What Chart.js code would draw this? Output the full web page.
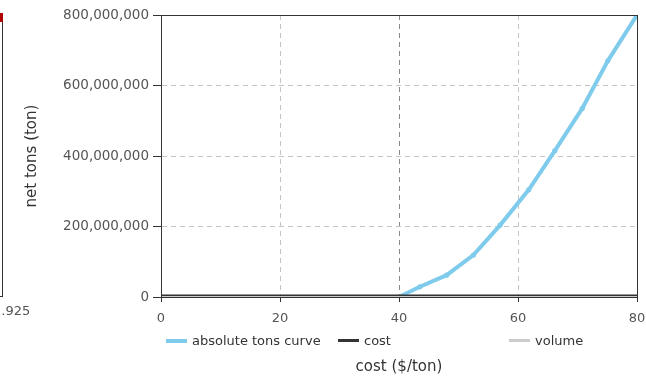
<!DOCTYPE html>
<html lang="en">
<head>
<meta charset="UTF-8">
<title>net tons vs cost</title>
<style>
    body { margin: 0; background: #fff; font-family: "DejaVu Sans", sans-serif; }
    .wrap { position: relative; width: 646px; height: 376px; overflow: hidden; }
    #chart { position: absolute; left: 0; top: 0; }
    .edge { position: absolute; left: -10px; top: 13px; width: 12px; height: 282px; border: 1px solid #333; border-left: none; }
    .edge-red { position: absolute; left: 0; top: 13px; width: 3px; height: 9px; background: #b00000; }
    .edge-label { position: absolute; left: -7px; top: 303px; font-size: 13px; color: #555; }
    .legend { position: absolute; top: 333px; font-size: 13px; color: #333; display: flex; align-items: center; }
    .legend span.sw { display: inline-block; width: 21px; margin-right: 5px; }
</style>
</head>
<body>
<div class="wrap">
    <canvas id="chart" width="646" height="376"></canvas>
    <div class="edge"></div>
    <div class="edge-red"></div>
    <div class="edge-label">1.925</div>
    <div class="legend" style="left:166px"><span class="sw" style="height:4px;background:#7fcbec"></span>absolute tons curve</div>
    <div class="legend" style="left:338px"><span class="sw" style="height:3px;background:#333"></span>cost</div>
    <div class="legend" style="left:509px"><span class="sw" style="height:3px;background:#ccc"></span>volume</div>
</div>

<script src="https://cdn.jsdelivr.net/npm/chart.js"></script>
<script>
// absolute tons curve
const curveCost = [40, 43.5, 48, 52.5, 57, 61.8, 66.2, 70.8, 75.1, 80];
const curveTons = [0, 29e6, 62e6, 119e6, 204e6, 304e6, 415e6, 535e6, 670e6, 800e6];

// cost and volume lines sit on the zero line
const flatCost = [0, 80];
const costTons = [3e6, 3e6];
const volumeTons = [0, 0];

const xTicks = [0, 20, 40, 60, 80];
const yTicks = [0, 200e6, 400e6, 600e6, 800e6];

const pts = (xs, ys) => xs.map((x, i) => ({x: x, y: ys[i]}));

// box around the plot area
const frame = {
    id: 'frame',
    afterDraw(chart) {
        const a = chart.chartArea, c = chart.ctx;
        c.save();
        c.strokeStyle = '#333';
        c.lineWidth = 1;
        c.strokeRect(a.left + 0.5, a.top + 0.5, a.right - a.left, a.bottom - a.top);
        c.restore();
    }
};

new Chart(document.getElementById('chart'), {
    type: 'line',
    data: {
        datasets: [{
            label: 'volume',
            data: pts(flatCost, volumeTons),
            borderColor: '#ccc',
            borderWidth: 2,
            pointRadius: 0
        }, {
            label: 'cost',
            data: pts(flatCost, costTons),
            borderColor: '#333',
            borderWidth: 3,
            pointRadius: 0,
            clip: false
        }, {
            label: 'absolute tons curve',
            data: pts(curveCost, curveTons),
            borderColor: '#7fcbec',
            backgroundColor: '#7fcbec',
            borderWidth: 4,
            pointRadius: 2.6,
            pointBorderWidth: 0,
            tension: 0
        }]
    },
    options: {
        responsive: false,
        animation: false,
        layout: { padding: { top: 15, right: 9, left: 0, bottom: 0 } },
        plugins: { legend: { display: false }, tooltip: { enabled: false } },
        scales: {
            x: {
                type: 'linear',
                min: 0, max: 80,
                afterBuildTicks: s => { s.ticks = xTicks.map(v => ({value: v})); },
                afterFit: s => { s.height = 79; s.paddingLeft = 0; s.paddingRight = 0; },
                ticks: { padding: 9, color: '#555', font: { family: 'DejaVu Sans', size: 13 } },
                grid: {
                    color: ctx => ctx.tick && ctx.tick.value === 40 ? '#8a8a8a' : '#c4c4c4',
                    tickColor: '#333',
                    tickLength: 5,
                    tickBorderDash: []
                },
                border: { color: '#333', dash: [5, 4] },
                title: {
                    display: true,
                    text: 'cost ($/ton)',
                    color: '#333',
                    font: { family: 'DejaVu Sans', size: 15 },
                    padding: { top: 0, bottom: 0 }
                }
            },
            y: {
                min: 0, max: 800e6,
                afterBuildTicks: s => { s.ticks = yTicks.map(v => ({value: v})); },
                afterFit: s => { s.width = 161; s.paddingTop = 0; s.paddingBottom = 0; },
                ticks: {
                    padding: 4,
                    color: '#555',
                    font: { family: 'DejaVu Sans', size: 13.5 },
                    callback: v => v.toLocaleString('en-US')
                },
                grid: {
                    color: '#c4c4c4',
                    tickColor: '#333',
                    tickLength: 8,
                    tickBorderDash: []
                },
                border: { color: '#333', dash: [5, 4] },
                title: {
                    display: true,
                    text: 'net tons (ton)',
                    color: '#333',
                    font: { family: 'DejaVu Sans', size: 15 },
                    padding: { top: 23, bottom: 0 }
                }
            }
        }
    },
    plugins: [frame]
});
</script>
</body>
</html>
